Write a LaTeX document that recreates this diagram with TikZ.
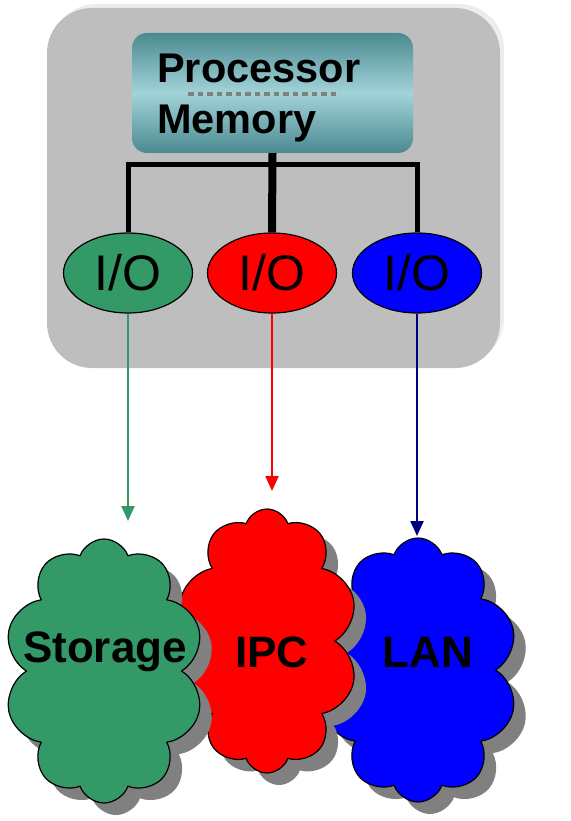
\documentclass[tikz,border=0pt]{standalone}
\usepackage{fontspec}
\setmainfont{Liberation Sans}
\usetikzlibrary{shapes.geometric,shapes.symbols,shadows,arrows.meta}
\definecolor{boxgray}{HTML}{BEBEBE}
\definecolor{tealdark}{HTML}{4A8A90}
\definecolor{teallight}{HTML}{A2D3D9}
\definecolor{iogreen}{HTML}{339966}
\definecolor{ionavy}{HTML}{000080}
\tikzset{
  iobox/.style={ellipse, draw=black, line width=1.2pt, minimum width=129pt, minimum height=80pt, inner sep=0pt,
    font=\fontsize{50}{54}\selectfont},
  bus/.style={line width=5pt, line join=miter},
  ioarrow/.style={line width=2.4pt, -{Triangle[length=15pt,width=13pt]}},
  netcloud/.style={cloud, cloud puffs=10, cloud puff arc=140, cloud ignores aspect, draw=black, line width=1.2pt,
    minimum width=182pt, minimum height=264pt, inner sep=0pt,
    drop shadow={shadow xshift=12pt, shadow yshift=-12pt, fill=gray!100, opacity=1}},
  nettext/.style={font=\bfseries\fontsize{44}{48}\selectfont, inner sep=0pt},
  pmtext/.style={font=\bfseries\fontsize{41.5}{44}\selectfont, inner sep=0pt, anchor=base west},
}
\begin{document}
\begin{tikzpicture}[x=1pt,y=-1pt]
\useasboundingbox (0,0) rectangle (570,821);
% outer gray box with faint shadow
\path[fill=black!7, rounded corners=45pt] (51,4) rectangle (504,364);
\path[fill=boxgray, rounded corners=45pt] (47,8) rectangle (500,368);
% processor/memory box
\node[rounded corners=15pt, minimum width=281pt, minimum height=120pt, inner sep=0pt,
  top color=tealdark, bottom color=tealdark, middle color=teallight] (pm) at (272.5,93) {};
\node[pmtext] (proc) at (157,83) {Processor};
\node[pmtext] (mem) at (157,134) {Memory};
\coordinate (dl) at (188,94);
\coordinate (dr) at (340,94);
\draw[draw=gray, line width=4pt, dash pattern=on 5.5pt off 4pt] (dl) -- (dr);
% I/O ellipses
\node[iobox, fill=iogreen] (io1) at (128,273) {I/O};
\node[iobox, fill=red] (io2) at (272,273) {I/O};
\node[iobox, fill=blue] (io3) at (417,273) {I/O};
% bus
\coordinate (busy) at (272,165);
\draw[bus] (io1.north) -- (io1.north |- busy) -- (io3.north |- busy) -- (io3.north);
\draw[bus, line width=8pt] (pm.south) -- (io2.north);
% clouds (back to front)
\node[netcloud, fill=blue, minimum width=200pt] (lan) at (418,670) {};
\node[netcloud, fill=red, minimum width=182pt] (ipc) at (267,641) {};
\node[netcloud, fill=iogreen, minimum width=200pt] (sto) at (104,671) {};
\node[nettext] (stot) at (105,652) {Storage};
\node[nettext] (ipct) at (272,652) {IPC};
\node[nettext] (lant) at (428,652) {LAN};
% arrows
\coordinate (t1) at (128,521);
\coordinate (t2) at (272,491);
\coordinate (t3) at (417,536);
\draw[ioarrow, draw=iogreen, fill=iogreen] (io1.south) -- (t1);
\draw[ioarrow, draw=red, fill=red] (io2.south) -- (t2);
\draw[ioarrow, draw=ionavy, fill=ionavy] (io3.south) -- (t3);
\end{tikzpicture}
\end{document}
